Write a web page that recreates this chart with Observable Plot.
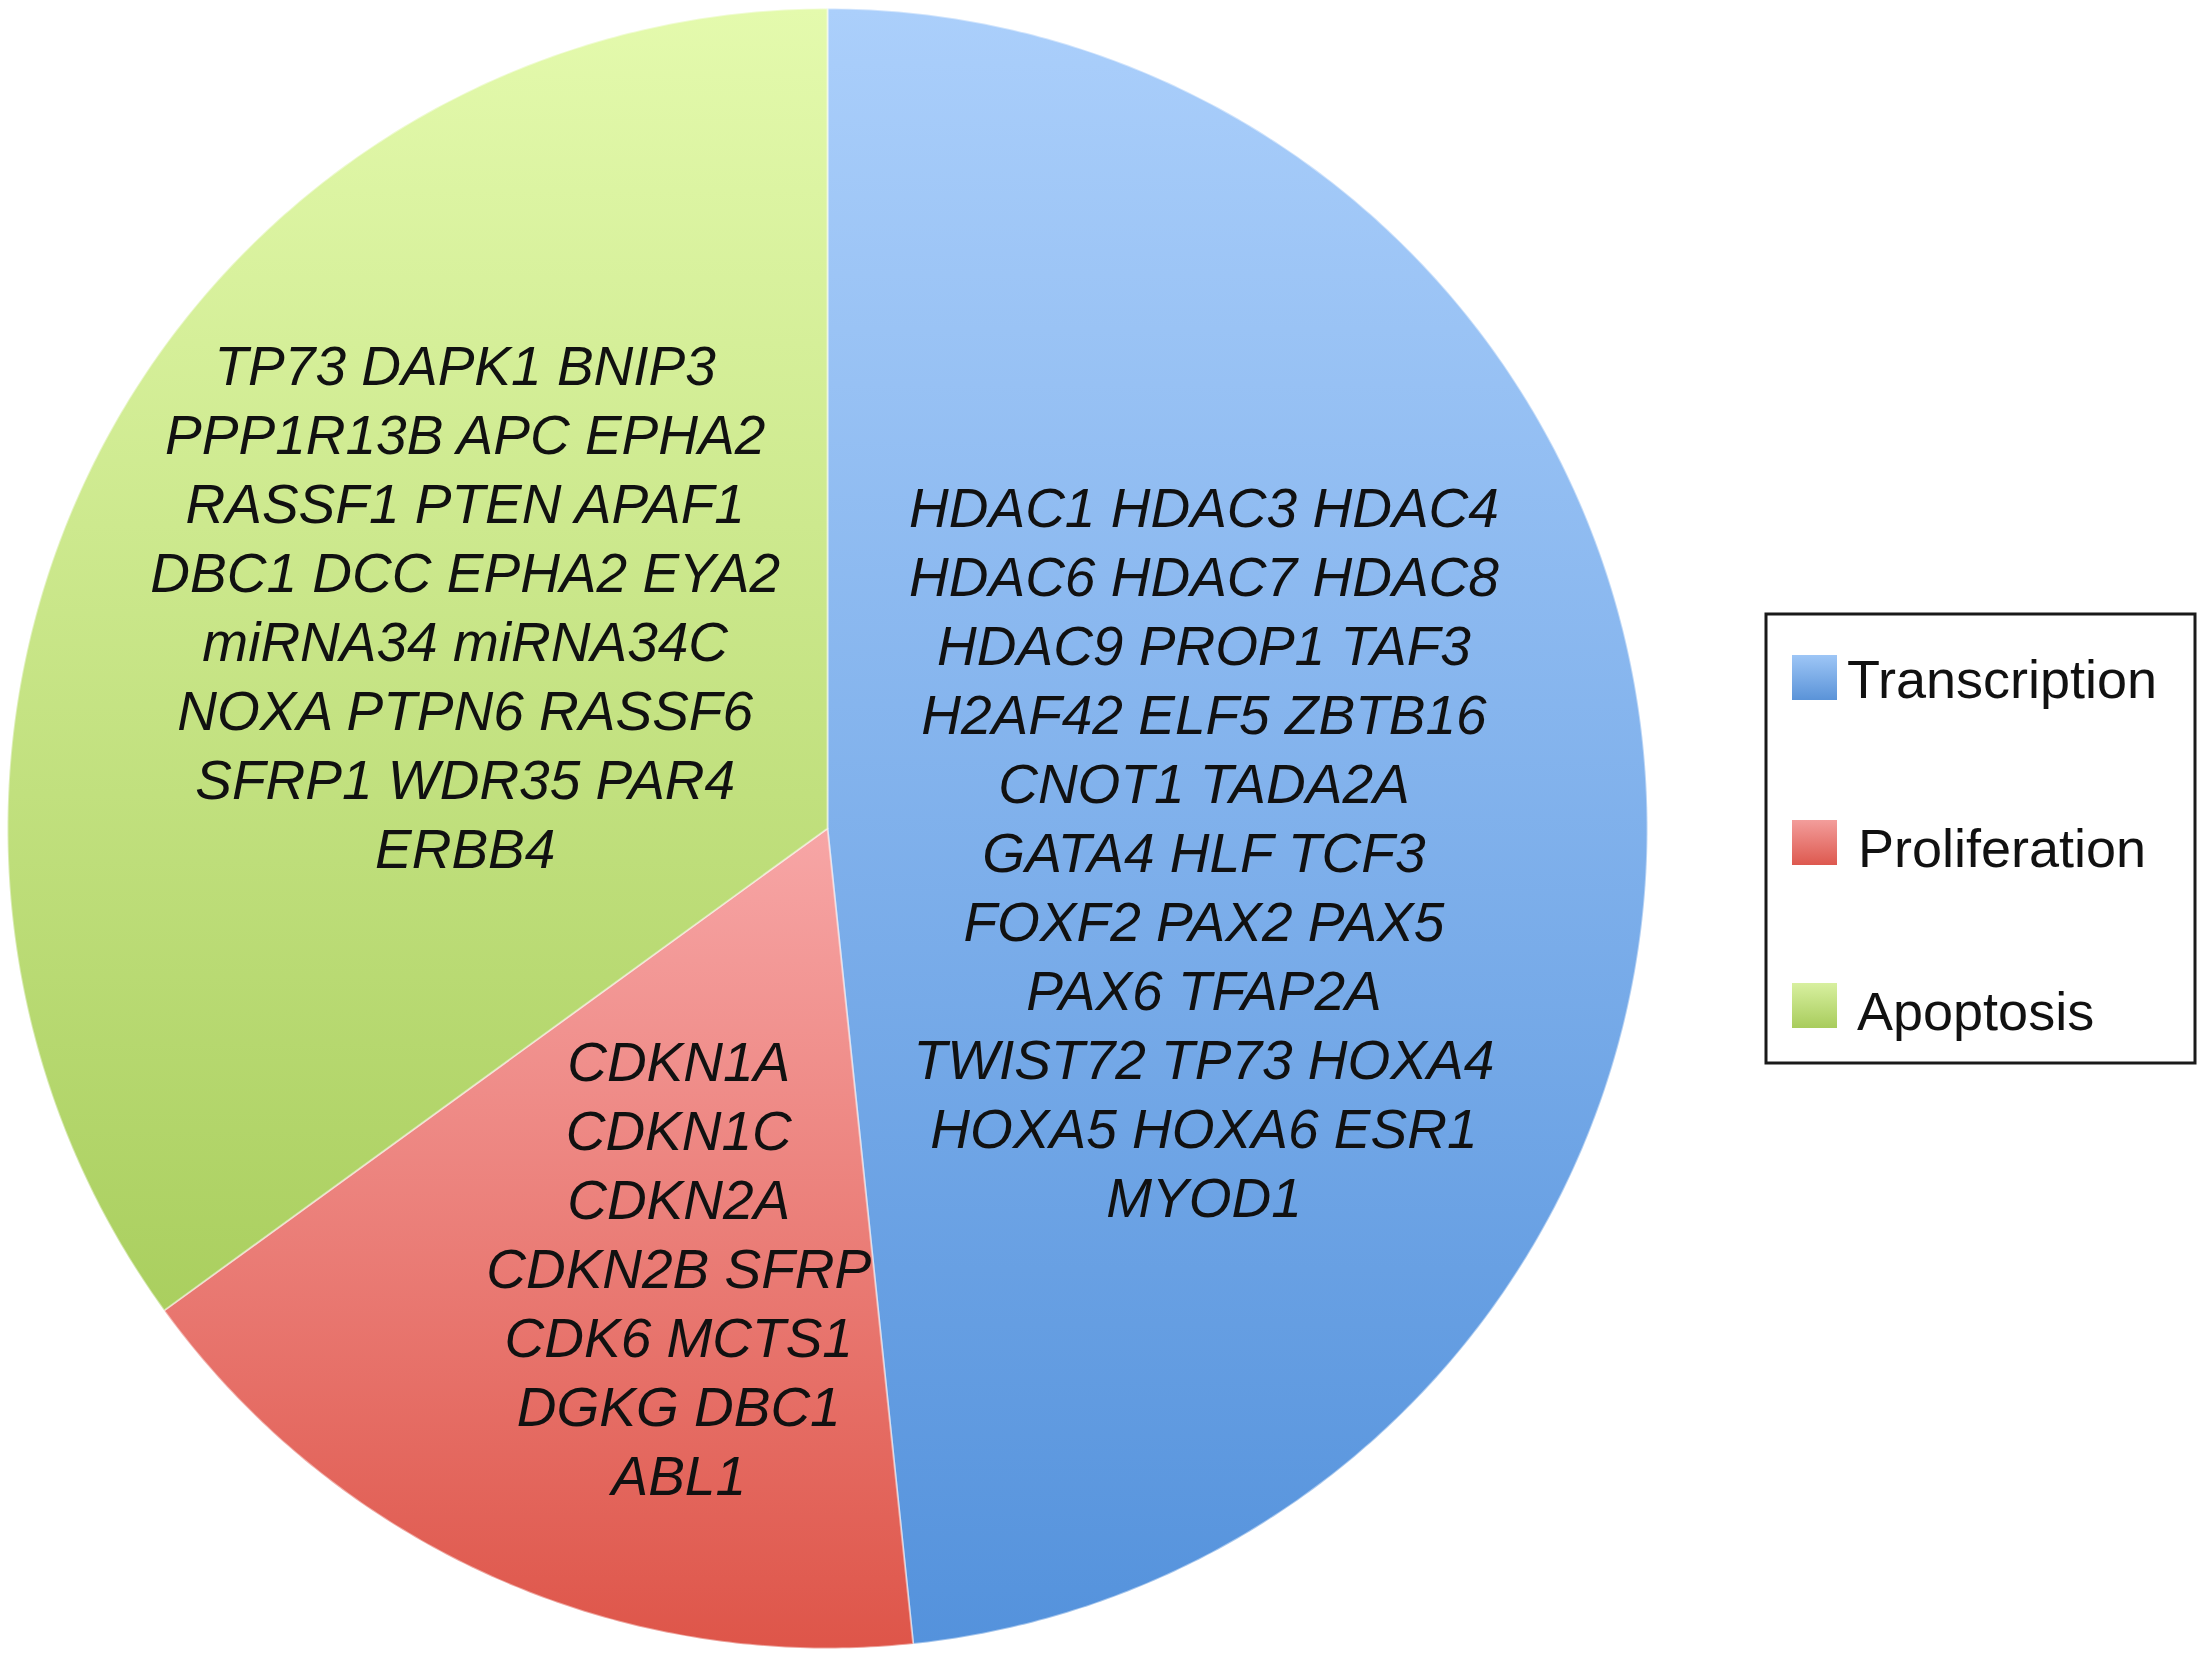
<!DOCTYPE html>
<html><head><meta charset="utf-8">
<script src="https://cdn.jsdelivr.net/npm/d3@7"></script>
<script src="https://cdn.jsdelivr.net/npm/@observablehq/plot@0.6"></script>
<style>
body{margin:0;background:#fff;}
#wrap{position:relative;width:2198px;height:1654px;overflow:hidden;}
#wrap svg{position:absolute;left:0;top:0;}
</style></head><body><div id="wrap"></div>
<script>
// ---- data ----
const categories = ["Transcription", "Proliferation", "Apoptosis"];
const geneCounts = [29, 10, 21];
const transcriptionGenes = ["HDAC1 HDAC3 HDAC4", "HDAC6 HDAC7 HDAC8", "HDAC9 PROP1 TAF3", "H2AF42 ELF5 ZBTB16", "CNOT1 TADA2A", "GATA4 HLF TCF3", "FOXF2 PAX2 PAX5", "PAX6 TFAP2A", "TWIST72 TP73 HOXA4", "HOXA5 HOXA6 ESR1", "MYOD1"];
const proliferationGenes = ["CDKN1A", "CDKN1C", "CDKN2A", "CDKN2B SFRP", "CDK6 MCTS1", "DGKG DBC1", "ABL1"];
const apoptosisGenes = ["TP73 DAPK1 BNIP3", "PPP1R13B APC EPHA2", "RASSF1 PTEN APAF1", "DBC1 DCC EPHA2 EYA2", "miRNA34 miRNA34C", "NOXA PTPN6 RASSF6", "SFRP1 WDR35 PAR4", "ERBB4"];
const geneLists = [transcriptionGenes, proliferationGenes, apoptosisGenes];

// ---- styles ----
const gradTop = ["#abcffb", "#f7a6a6", "#e4faad"];
const gradBottom = ["#5492dc", "#de5549", "#aacf5f"];
const swatchTop = ["#9ec6f6", "#f39d9b", "#d8f0a0"];
const swatchBottom = ["#5a93d8", "#dd594f", "#a8cc5c"];
const labelDx = [-33, 18, 3];
const labelDy = [43, 63, -38];
const labelRadius = 0.5;
const FONT = "'Liberation Sans', Arial, Helvetica, sans-serif";

// ---- build pie geometry from data ----
const rows = categories.map((c, i) => ({cat: c, count: geneCounts[i], genes: geneLists[i]}));
const arcs = d3.pie().sort(null).value(d => d.count)(rows);
const poly = [];
for (const a of arcs) {
  const n = Math.ceil((a.endAngle - a.startAngle) / (Math.PI / 360));
  poly.push({cat: a.data.cat, x: 0, y: 0});
  for (let i = 0; i <= n; i++) {
    const t = a.startAngle + (a.endAngle - a.startAngle) * i / n;
    poly.push({cat: a.data.cat, x: Math.sin(t), y: Math.cos(t)});
  }
  poly.push({cat: a.data.cat, x: 0, y: 0});
}
const labels = arcs.map((a, i) => {
  const m = (a.startAngle + a.endAngle) / 2;
  return {cat: a.data.cat, text: a.data.genes.join("\n"), x: labelRadius * Math.sin(m), y: labelRadius * Math.cos(m), dx: labelDx[i], dy: labelDy[i]};
});

const chart = Plot.plot({
  width: 2198,
  height: 1654,
  margin: 0,
  x: {domain: [-1, 1], range: [7, 1647], axis: null},
  y: {domain: [-1, 1], range: [1648, 8], axis: null},
  color: {type: "ordinal", domain: categories, range: categories.map((c, i) => `url(#grad${i})`)},
  style: {background: "transparent"},
  marks: [
    Plot.line(poly, {x: "x", y: "y", z: "cat", fill: "cat", stroke: "#ffffff", strokeOpacity: 0.45, strokeWidth: 2, strokeLinejoin: "round"}),
    ...labels.map(l => Plot.text([l], {
      x: "x", y: "y", text: "text", dx: l.dx, dy: l.dy,
      fontSize: 55, fontStyle: "italic", fontFamily: FONT, fill: "#111",
      lineHeight: 69 / 55, lineAnchor: "middle", textAnchor: "middle"
    }))
  ]
});

const defs = d3.select(chart).insert("defs", ":first-child");
categories.forEach((c, i) => {
  const g = defs.append("linearGradient").attr("id", `grad${i}`).attr("x1", 0).attr("y1", 0).attr("x2", 0).attr("y2", 1);
  g.append("stop").attr("offset", "0%").attr("stop-color", gradTop[i]);
  g.append("stop").attr("offset", "100%").attr("stop-color", gradBottom[i]);
});
document.getElementById("wrap").appendChild(chart);

// ---- legend (overlay) ----
const leg = d3.select("#wrap").append("svg").attr("width", 2198).attr("height", 1654).style("pointer-events", "none");
const ldefs = leg.append("defs");
categories.forEach((c, i) => {
  const g = ldefs.append("linearGradient").attr("id", `lgrad${i}`).attr("x1", 0).attr("y1", 0).attr("x2", 0).attr("y2", 1);
  g.append("stop").attr("offset", "0%").attr("stop-color", swatchTop[i]);
  g.append("stop").attr("offset", "100%").attr("stop-color", swatchBottom[i]);
});
leg.append("rect").attr("x", 1766).attr("y", 614).attr("width", 429).attr("height", 449)
  .attr("fill", "#fff").attr("stroke", "#1a1a1a").attr("stroke-width", 3);
const swY = [655, 820, 983];
const txX = [1847, 1858, 1857];
const txY = [698, 867, 1030];
categories.forEach((c, i) => {
  leg.append("rect").attr("x", 1792).attr("y", swY[i]).attr("width", 45).attr("height", 45).attr("fill", `url(#lgrad${i})`);
  leg.append("text").attr("x", txX[i]).attr("y", txY[i]).attr("font-family", FONT).attr("font-size", 54).attr("fill", "#111").text(c);
});
</script></body></html>
